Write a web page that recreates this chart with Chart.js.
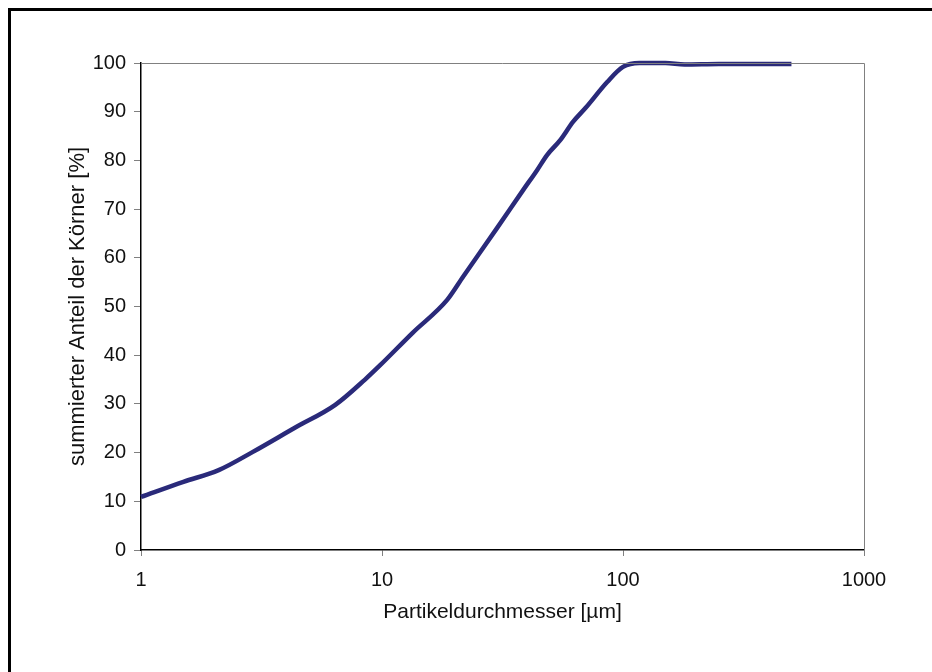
<!DOCTYPE html>
<html lang="de">
<head>
  <meta charset="UTF-8">
  <title>Korngrößenverteilung</title>
  <script src="https://cdn.jsdelivr.net/npm/chart.js"></script>
  <style>
    html, body { margin: 0; padding: 0; background: #fff; }
    #wrap { position: relative; width: 932px; height: 672px; overflow: hidden; }
    #frame {
      position: absolute; left: 8px; top: 8px; right: -10px; bottom: -10px;
      border-top: 3px solid #000; border-left: 3px solid #000;
    }
    #wrap canvas { position: absolute; left: 0; top: 0; }
  </style>
</head>
<body>
  <div id="wrap">
    <div id="frame"></div>
    <canvas id="kurve" width="932" height="672"></canvas>
  </div>

  <script>
    // Partikeldurchmesser [µm] und summierter Anteil [%]
    const durchmesser = [1, 1.5, 2.1, 2.9, 4.35, 6.4, 8.5, 9.8, 13.4, 18.6, 21.7, 30, 38.5, 44, 48.4, 55, 62, 70, 86, 100, 117, 150, 180, 250, 350, 500];
    const anteil      = [10.9, 14.0, 16.4, 20.1, 25.1, 29.8, 35.0, 37.9, 44.6, 51.3, 56.1, 66.1, 73.9, 78.0, 81.1, 84.2, 87.9, 90.8, 96.1, 99.2, 100, 100, 99.7, 99.8, 99.8, 99.8];
    const xTicks = [1, 10, 100, 1000];
    const yMin = 0, yMax = 100, yStep = 10;

    const tickSchrift = { family: "'Liberation Sans', Arial, sans-serif", size: 20 };
    const xTitelSchrift = { family: "'Liberation Sans', Arial, sans-serif", size: 21 };
    const yTitelSchrift = { family: "'Liberation Sans', Arial, sans-serif", size: 22 };

    // graue Linien oben und rechts am Diagrammrahmen
    const rahmen = {
      id: 'rahmen',
      afterDraw(chart) {
        const { ctx, chartArea: a } = chart;
        ctx.save();
        ctx.strokeStyle = '#808080';
        ctx.lineWidth = 1;
        ctx.beginPath();
        ctx.moveTo(a.left, a.top + 0.5);
        ctx.lineTo(a.right + 0.5, a.top + 0.5);
        ctx.lineTo(a.right + 0.5, a.bottom + 6);
        ctx.stroke();
        ctx.restore();
      }
    };

    new Chart(document.getElementById('kurve'), {
      type: 'line',
      data: {
        datasets: [{
          data: durchmesser.map((d, i) => ({ x: d, y: anteil[i] })),
          borderColor: '#2a2a7a',
          borderWidth: 4.5,
          pointRadius: 0,
          cubicInterpolationMode: 'monotone',
          clip: false
        }]
      },
      options: {
        responsive: false,
        animation: false,
        layout: { padding: { left: 55, top: 63, right: 68, bottom: 46 } },
        plugins: { legend: { display: false }, tooltip: { enabled: false } },
        scales: {
          x: {
            type: 'logarithmic',
            min: 1, max: 1000,
            afterBuildTicks: s => { s.ticks = xTicks.map(v => ({ value: v })); },
            afterFit: s => { s.height = 76; },
            border: { color: '#000', width: 1.5 },
            grid: { drawOnChartArea: false, color: '#808080', tickLength: 6 },
            ticks: { color: '#111', font: tickSchrift, padding: 12, maxRotation: 0, callback: v => String(v) },
            title: { display: true, text: 'Partikeldurchmesser [µm]', color: '#111', font: xTitelSchrift, padding: { top: 0, bottom: 1 } }
          },
          y: {
            min: yMin, max: yMax,
            afterFit: s => { s.width = 86; },
            border: { color: '#000', width: 1.5 },
            grid: { drawOnChartArea: false, color: '#808080', tickLength: 7 },
            ticks: { stepSize: yStep, color: '#111', font: tickSchrift, padding: 8 },
            title: { display: true, text: 'summierter Anteil der Körner [%]', color: '#111', font: yTitelSchrift, padding: { top: 10, bottom: 0 } }
          }
        }
      },
      plugins: [rahmen]
    });
  </script>
</body>
</html>
